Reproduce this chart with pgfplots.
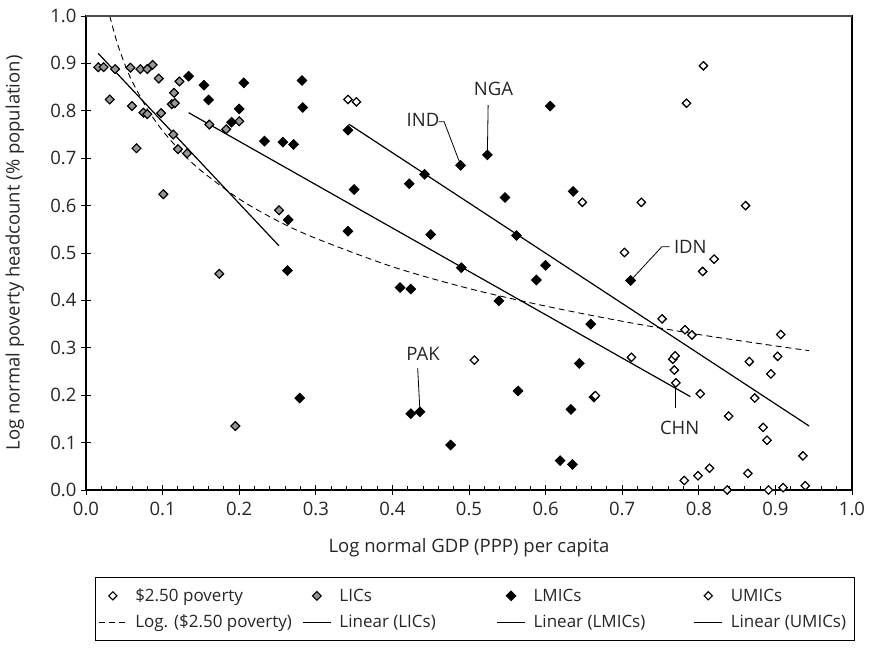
\documentclass[border=0pt]{standalone}
\usepackage{fontspec}
\setmainfont{Open Sans}
\usepackage{pgfplots}
\usepackage{pgfplotstable}
\pgfplotsset{compat=1.18}

\definecolor{txt}{HTML}{262626}
\definecolor{licgray}{HTML}{969696}

% Low-income countries
\pgfplotstableread{
x y
0.016 0.892
0.023 0.892
0.031 0.824
0.038 0.888
0.058 0.891
0.060 0.810
0.066 0.721
0.071 0.888
0.075 0.796
0.080 0.888
0.080 0.793
0.087 0.897
0.095 0.868
0.098 0.795
0.101 0.624
0.112 0.814
0.116 0.816
0.114 0.750
0.115 0.838
0.120 0.719
0.122 0.862
0.132 0.710
0.161 0.771
0.174 0.456
0.183 0.761
0.195 0.135
0.200 0.778
0.252 0.590
}\lics

% Lower-middle-income countries
\pgfplotstableread{
x y
0.134 0.873
0.154 0.854
0.160 0.823
0.190 0.776
0.200 0.804
0.206 0.859
0.233 0.736
0.257 0.734
0.263 0.463
0.264 0.570
0.271 0.729
0.279 0.194
0.282 0.864
0.283 0.807
0.342 0.759
0.342 0.546
0.350 0.634
0.410 0.427
0.422 0.646
0.424 0.424
0.424 0.161
0.436 0.165
0.442 0.666
0.450 0.539
0.476 0.095
0.489 0.685
0.490 0.469
0.524 0.707
0.539 0.399
0.547 0.617
0.562 0.537
0.564 0.209
0.588 0.443
0.600 0.474
0.606 0.810
0.619 0.062
0.633 0.170
0.635 0.054
0.636 0.630
0.644 0.267
0.659 0.350
0.663 0.196
0.711 0.442
}\lmics

% Upper-middle-income countries
\pgfplotstableread{
x y
0.342 0.824
0.353 0.819
0.507 0.274
0.648 0.607
0.665 0.199
0.703 0.501
0.712 0.280
0.725 0.607
0.752 0.361
0.766 0.276
0.769 0.283
0.768 0.253
0.770 0.226
0.781 0.020
0.782 0.338
0.784 0.816
0.791 0.327
0.799 0.030
0.802 0.203
0.805 0.461
0.806 0.895
0.814 0.046
0.820 0.487
0.837 0.000
0.839 0.156
0.861 0.600
0.864 0.035
0.866 0.271
0.873 0.194
0.884 0.132
0.889 0.105
0.891 0.000
0.894 0.245
0.903 0.282
0.907 0.328
0.910 0.005
0.936 0.072
0.939 0.009
}\umics

\pgfplotsset{
  dmd/.style 2 args={only marks, mark=square*, mark size=#1,
    mark options={rotate=45, draw=black, fill=#2, line width=1.1pt}},
  markimg/.style={legend image code/.code={%
    \path (0pt,0pt) (28pt,0pt);
    \draw[##1] plot coordinates {(14pt,0pt)};}},
  lineimg/.style={legend image code/.code={%
    \draw[##1] (0pt,0pt) -- (28pt,0pt);}},
}

\newcommand{\lfont}{\fontsize{18.5}{22}\selectfont}
\newcommand{\legfont}{\fontsize{17}{20}\selectfont}

\begin{document}
\begin{tikzpicture}
\path[use as bounding box, fill=white] (-86pt,-159pt) rectangle (790pt,490pt);
\begin{axis}[
  at={(0pt,0pt)}, anchor=south west,
  scale only axis, width=766pt, height=474pt,
  xmin=0, xmax=1, ymin=0, ymax=1,
  clip=false,
  xtick={0,0.1,0.2,0.3,0.4,0.5,0.6,0.7,0.8,0.9,1},
  ytick={0,0.1,0.2,0.3,0.4,0.5,0.6,0.7,0.8,0.9,1},
  minor x tick num=4,
  xtick pos=bottom, ytick pos=left,
  tick align=center,
  major tick length=10pt,
  minor tick length=4pt,
  minor x tick style={yshift=2pt},
  tick style={black, line width=0.9pt},
  axis line style={black, line width=1.1pt},
  scaled ticks=false,
  /pgf/number format/fixed,
  /pgf/number format/fixed zerofill,
  /pgf/number format/precision=1,
  /pgf/number format/assume math mode=true,
  tick label style={font=\lfont, text=txt},
  xticklabel style={yshift=-4pt},
  yticklabel style={xshift=-1pt},
  xlabel={Log normal GDP (PPP) per capita},
  ylabel={Log normal poverty headcount (\% population)},
  label style={font=\lfont, text=txt},
  xlabel style={at={(axis description cs:0.5,-0.122)}, anchor=center},
  ylabel style={at={(axis description cs:-0.093,0.5)}, anchor=center, rotate=0},
  legend columns=4,
  legend cell align=left,
  legend style={at={(axis description cs:0.0117,-0.184)}, anchor=north west,
    draw=black, line width=0.8pt, font=\legfont, text=txt,
    inner xsep=3pt, inner ysep=9pt, row sep=8pt,
    nodes={inner xsep=3pt, inner ysep=2pt},
    /tikz/every odd column/.append style={column sep=5pt}},
]

% trend lines
\addplot[black, line width=0.9pt, dash pattern=on 6pt off 4pt, smooth, forget plot]
  coordinates {(0.031,1.000) (0.040,0.947) (0.050,0.901) (0.060,0.863) (0.080,0.804)
  (0.100,0.758) (0.125,0.712) (0.150,0.674) (0.200,0.614) (0.250,0.568) (0.300,0.531)
  (0.400,0.471) (0.500,0.425) (0.600,0.388) (0.700,0.356) (0.800,0.328) (0.900,0.304)
  (0.944,0.294)};
\addplot[black, line width=1.2pt, forget plot] coordinates {(0.016,0.921) (0.252,0.515)};
\addplot[black, line width=1.2pt, forget plot] coordinates {(0.134,0.796) (0.789,0.197)};
\addplot[black, line width=1.2pt, forget plot] coordinates {(0.343,0.772) (0.944,0.135)};

% all countries, $2.50 poverty
\addplot[dmd={2.9pt}{white}, markimg] table[x=x, y=y] {\lics};
\addlegendentry{\makebox[164pt][l]{\$2.50 poverty}}
\addplot[dmd={2.9pt}{white}, forget plot] table[x=x, y=y] {\lmics};
\addplot[dmd={2.9pt}{white}, forget plot] table[x=x, y=y] {\umics};

% income groups
\addplot[dmd={3.1pt}{licgray}, markimg] table[x=x, y=y] {\lics};
\addlegendentry{\makebox[154pt][l]{LICs}}
\addplot[dmd={3.3pt}{black}, markimg] table[x=x, y=y] {\lmics};
\addlegendentry{\makebox[157pt][l]{LMICs}}
\addplot[dmd={2.9pt}{white}, markimg] table[x=x, y=y] {\umics};
\addlegendentry{\makebox[118pt][l]{UMICs}}

\addlegendimage{lineimg, black, line width=0.9pt, dash pattern=on 6pt off 4pt}
\addlegendentry{Log. (\$2.50 poverty)}
\addlegendimage{lineimg, black, line width=1.2pt}
\addlegendentry{Linear (LICs)}
\addlegendimage{lineimg, black, line width=1.2pt}
\addlegendentry{Linear (LMICs)}
\addlegendimage{lineimg, black, line width=1.2pt}
\addlegendentry{Linear (UMICs)}

% country call-outs
\node[font=\lfont, text=txt] at (axis cs:0.440,0.781) {IND};
\draw[black, line width=0.8pt] (axis cs:0.4604,0.777) -- (axis cs:0.4675,0.777) -- (axis cs:0.4883,0.689);
\node[font=\lfont, text=txt] at (axis cs:0.532,0.847) {NGA};
\draw[black, line width=0.8pt] (axis cs:0.525,0.812) -- (axis cs:0.524,0.710);
\node[font=\lfont, text=txt] at (axis cs:0.789,0.513) {IDN};
\draw[black, line width=0.8pt] (axis cs:0.762,0.513) -- (axis cs:0.7516,0.513) -- (axis cs:0.711,0.442);
\node[font=\lfont, text=txt] at (axis cs:0.440,0.287) {PAK};
\draw[black, line width=0.8pt] (axis cs:0.433,0.257) -- (axis cs:0.436,0.165);
\node[font=\lfont, text=txt] at (axis cs:0.775,0.131) {CHN};
\draw[black, line width=0.8pt] (axis cs:0.770,0.172) -- (axis cs:0.770,0.226);

% heavier top frame
\draw[black!70, line width=1.8pt] (axis description cs:0,1) -- (axis description cs:1,1);
\end{axis}
\end{tikzpicture}
\end{document}
